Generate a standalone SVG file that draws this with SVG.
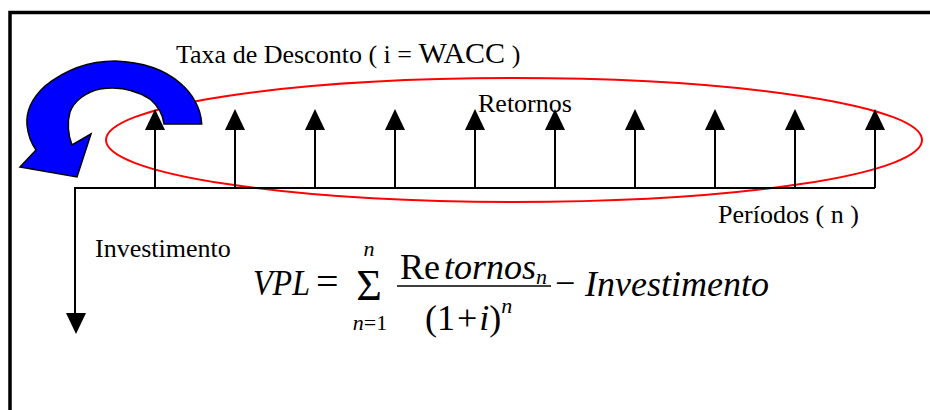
<svg xmlns="http://www.w3.org/2000/svg" width="930" height="410" viewBox="0 0 930 410">
<style>
.lbl{font-family:"Liberation Serif","Times New Roman",serif;font-size:26px;fill:#000}
.f{font-family:"Liberation Serif","Times New Roman",serif;font-size:36px;fill:#000}
.it{font-style:italic}
.sm{font-size:22px}
.ln{stroke:#000;stroke-width:2;fill:none}
</style>
<defs>
<polygon id="head" points="-10,0 0,-21 10,0" fill="#000"/>
</defs>
<rect x="10" y="12.5" width="940" height="420" fill="#fff" stroke="#000" stroke-width="3.5"/>
<g id="ellipse-retornos">
<ellipse cx="514" cy="140" rx="408" ry="62" fill="none" stroke="#f00" stroke-width="2"/>
</g>
<g id="discount-arrow">
<path d="M201.7,124 C201,108 192,93 180,83 C165,70 143,62 115,61 C90,61 65,70 45,86 C32,98 26,112 27,125 C28,135 31,143 36,150 L20,167 L77,177 L91,134 L72,145 C68,135 67,122 70,112 C74,101 86,92 100,89 C118,86 136,90 150,99 C158,106 163,115 164,124 Z" fill="#00f" stroke="#000" stroke-width="1.5" stroke-linejoin="miter"/>
</g>
<g id="connectors">
<path class="ln" d="M75,313 V188 H875"/>
<use href="#head" transform="translate(76,313) rotate(180)"/>
<path class="ln" d="M155,188V129 M235,188V129 M315,188V129 M395,188V129 M475,188V129 M555,188V129 M635,188V129 M715,188V129 M795,188V129 M875,188V129"/>
<use href="#head" x="155" y="130"/>
<use href="#head" x="235" y="130"/>
<use href="#head" x="315" y="130"/>
<use href="#head" x="395" y="130"/>
<use href="#head" x="475" y="130"/>
<use href="#head" x="555" y="130"/>
<use href="#head" x="635" y="130"/>
<use href="#head" x="715" y="130"/>
<use href="#head" x="795" y="130"/>
<use href="#head" x="875" y="130"/>
</g>
<g id="labels">
<text class="lbl" x="176" y="63">Taxa de Desconto ( i = <tspan style="font-size:30px">WACC</tspan> )</text>
<text class="lbl" x="478" y="112">Retornos</text>
<text class="lbl" x="718" y="223">Períodos ( n )</text>
<text class="lbl" x="95" y="257">Investimento</text>
</g>
<g id="formula">
<text class="f it" x="253" y="295" textLength="57" lengthAdjust="spacingAndGlyphs">VPL</text>
<text class="f" x="316" y="295" style="font-size:40px">=</text>
<text class="f" x="369" y="300" text-anchor="middle" style="font-size:44px">Σ</text>
<text class="f it sm" x="369" y="255.5" text-anchor="middle">n</text>
<text class="f sm" x="370" y="330" text-anchor="middle"><tspan class="it">n</tspan>=1</text>
<text class="f" x="400" y="279">Re<tspan class="it" dx="4">tornos</tspan><tspan class="it sm" dy="5">n</tspan></text>
<line x1="397" y1="286" x2="551" y2="286" stroke="#000" stroke-width="1.5"/>
<text class="f" x="425" y="330">(1<tspan dx="2">+</tspan><tspan class="it" dx="2">i</tspan>)<tspan class="it sm" dy="-17">n</tspan></text>
<text class="f" x="555" y="295">−</text>
<text class="f it" x="585" y="296">Investimento</text>
</g>
</svg>
